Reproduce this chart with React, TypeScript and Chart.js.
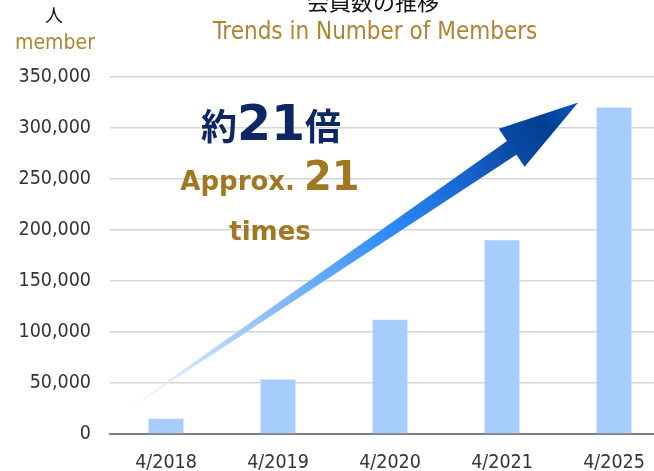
import React, { useEffect, useRef } from "react";
import { Chart, registerables } from "chart.js";

Chart.register(...registerables);

// ---- data ----
const categories = ["4/2018", "4/2019", "4/2020", "4/2021", "4/2025"];
const members = [15000, 53500, 112000, 190000, 320000];
const yTicks = [0, 50000, 100000, 150000, 200000, 250000, 300000, 350000];
const titleJa = "会員数の推移";
const titleEn = "Trends in Number of Members";
const unitJa = "人";
const unitEn = "member";
const noteJa = ["約", "21", "倍"];
const noteEn = ["Approx.", "21", "times"];
// arrow anchored in data space: [category index, value]
const arrowTail = [-0.5, 12000];
const arrowTip = [3.68, 325000];

const COND = '"DejaVu Sans Condensed", "DejaVu Sans", sans-serif';
const BOLD = '"DejaVu Sans", "Noto Sans", sans-serif';
const CJK = '"Noto Sans CJK JP", "Noto Sans CJK SC", sans-serif';
const GOLD = "#ad8533";
const GOLD_BOLD = "#a07722";
const NAVY = "#0d2763";

const overlay = {
  id: "overlay",
  afterDatasetsDraw(chart: any) {
    const { ctx, scales } = chart;
    const xs = scales.x;
    const ys = scales.y;
    const tx = xs.getPixelForValue(arrowTail[0]);
    const ty = ys.getPixelForValue(arrowTail[1]);
    const px = xs.getPixelForValue(arrowTip[0]);
    const py = ys.getPixelForValue(arrowTip[1]);
    const dx = px - tx;
    const dy = py - ty;
    const L = Math.hypot(dx, dy);
    const ux = dx / L;
    const uy = dy / L;
    const nx = -uy;
    const ny = ux;
    const bAlong = 0.858 * L;
    const bx = tx + ux * bAlong;
    const by = ty + uy * bAlong;
    const sh = 8.3;
    const hh = 23;
    ctx.save();
    const g = ctx.createLinearGradient(tx, ty, px, py);
    g.addColorStop(0, "rgba(255,255,255,0)");
    g.addColorStop(0.06, "rgba(240,247,255,0.9)");
    g.addColorStop(0.14, "#d6e8fd");
    g.addColorStop(0.3, "#9dc7fb");
    g.addColorStop(0.46, "#5ea7f8");
    g.addColorStop(0.6, "#2b8af8");
    g.addColorStop(0.74, "#1a69d6");
    g.addColorStop(0.86, "#0b4aa5");
    g.addColorStop(0.93, "#003f91");
    g.addColorStop(1, "#0058c6");
    ctx.fillStyle = g;
    ctx.beginPath();
    ctx.moveTo(tx, ty);
    ctx.lineTo(bx - nx * sh, by - ny * sh);
    ctx.lineTo(bx - nx * hh, by - ny * hh);
    ctx.lineTo(px, py);
    ctx.lineTo(bx + nx * hh, by + ny * hh);
    ctx.lineTo(bx + nx * sh, by + ny * sh);
    ctx.closePath();
    ctx.fill();
    ctx.restore();
  },
  afterDraw(chart: any) {
    const { ctx, chartArea } = chart;
    const L0 = chartArea.left;
    const T0 = chartArea.top;
    ctx.save();
    ctx.textBaseline = "alphabetic";
    ctx.textAlign = "center";

    // titles
    ctx.fillStyle = "#111";
    ctx.font = `22px ${CJK}`;
    ctx.fillText(titleJa, L0 + 263, T0 - 67);
    ctx.fillStyle = GOLD;
    ctx.font = `24px ${COND}`;
    ctx.fillText(titleEn, L0 + 265, T0 - 38);

    // unit
    ctx.fillStyle = "#111";
    ctx.font = `18px ${CJK}`;
    ctx.fillText(unitJa, 54, T0 - 55);
    ctx.fillStyle = GOLD;
    ctx.font = `21px ${COND}`;
    ctx.fillText(unitEn, 55, T0 - 28);

    // note line 1
    ctx.textAlign = "left";
    const f1 = `bold 36px ${CJK}`;
    const f2 = `bold 49px ${BOLD}`;
    ctx.font = f1;
    const w1 = ctx.measureText(noteJa[0]).width;
    const w3 = ctx.measureText(noteJa[2]).width;
    ctx.font = f2;
    const w2 = ctx.measureText(noteJa[1]).width;
    let x = L0 + 161 - (w1 + w2 + w3) / 2;
    const b1 = T0 + 63;
    ctx.fillStyle = NAVY;
    ctx.font = f1;
    ctx.fillText(noteJa[0], x, b1);
    x += w1;
    ctx.font = f2;
    ctx.fillText(noteJa[1], x, b1);
    x += w2;
    ctx.font = f1;
    ctx.fillText(noteJa[2], x, b1);

    // note line 2
    const g1 = `bold 26px ${BOLD}`;
    const g2 = `bold 40px ${BOLD}`;
    ctx.font = g1;
    const a1 = ctx.measureText(noteEn[0] + " ").width;
    ctx.font = g2;
    const a2 = ctx.measureText(noteEn[1]).width;
    x = L0 + 160 - (a1 + a2) / 2;
    const b2 = T0 + 113;
    ctx.fillStyle = GOLD_BOLD;
    ctx.font = g1;
    ctx.fillText(noteEn[0] + " ", x, b2);
    ctx.font = g2;
    ctx.fillText(noteEn[1], x + a1, b2);

    // note line 3
    ctx.textAlign = "center";
    ctx.font = `bold 26px ${BOLD}`;
    ctx.fillText(noteEn[2], L0 + 160, T0 + 163);
    ctx.restore();
  },
};

export default function App() {
  const ref = useRef<HTMLCanvasElement>(null);
  useEffect(() => {
    const chart = new Chart(ref.current as HTMLCanvasElement, {
      type: "bar",
      data: {
        labels: categories,
        datasets: [
          {
            data: members,
            backgroundColor: "#a6cdfb",
            borderWidth: 0,
            barPercentage: 0.312,
            categoryPercentage: 1,
          },
        ],
      },
      options: {
        animation: false,
        responsive: true,
        maintainAspectRatio: false,
        layout: { padding: { top: 77, right: 2, left: 0, bottom: 0 } },
        plugins: {
          legend: { display: false },
          tooltip: { enabled: false },
          title: { display: false },
        },
        scales: {
          x: {
            grid: { display: false },
            border: { display: true, color: "#7f7f7f", width: 2 },
            ticks: {
              color: "#333",
              padding: 9,
              font: { family: COND, size: 19.5 },
            },
            afterFit(s: any) {
              s.height = 37;
            },
          },
          y: {
            min: 0,
            max: 350000,
            afterBuildTicks(s: any) {
              s.ticks = yTicks.map((v) => ({ value: v }));
            },
            ticks: {
              color: "#333",
              padding: 19,
              font: { family: COND, size: 19.5 },
              callback: (v: any) => Number(v).toLocaleString("en-US"),
            },
            grid: {
              drawTicks: false,
              lineWidth: 1.5,
              color: (c: any) => (c.tick && c.tick.value === 0 ? "rgba(0,0,0,0)" : "#d6d6d6"),
            },
            border: { display: false },
            afterFit(s: any) {
              s.width = 110;
            },
          },
        },
      },
      plugins: [overlay],
    });
    return () => chart.destroy();
  }, []);
  return (
    <div
      style={{
        position: "fixed",
        left: 0,
        top: 0,
        width: 654,
        height: 471,
        overflow: "hidden",
        background: "#fff",
      }}
    >
      <div style={{ position: "absolute", left: 0, top: 0, width: 672, height: 471 }}>
        <canvas ref={ref} />
      </div>
    </div>
  );
}
